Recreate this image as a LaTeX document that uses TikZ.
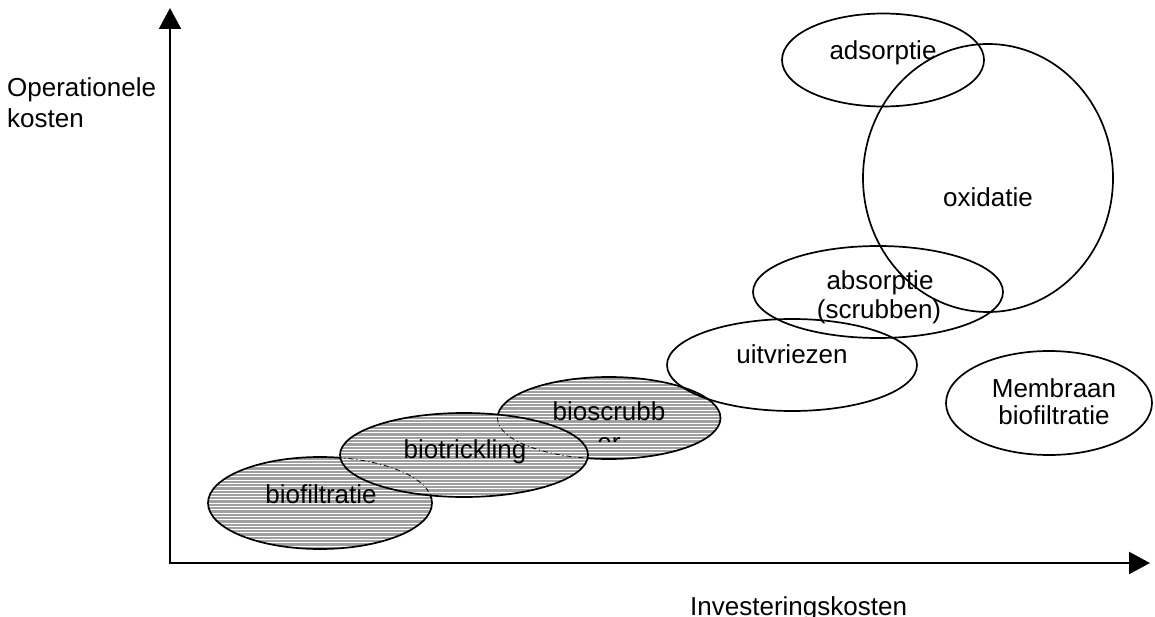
\documentclass[tikz,border=0pt]{standalone}
\usepackage{fontspec}
\setmainfont{Liberation Sans}
\usetikzlibrary{arrows.meta,shapes.geometric}

\definecolor{hatchgray}{RGB}{160,160,160}

\tikzset{
  axis/.style={line width=2.2pt, line join=miter,
    {Triangle[length=21pt,width=22pt]}-{Triangle[length=21pt,width=22pt]}},
  blob/.style={ellipse, draw, line width=1.7pt, inner sep=0pt},
  stripes/.code={\foreach \k in {0,...,40}
        \draw[white,line width=1pt]
          ([yshift=-\k*3.3pt]path picture bounding box.north west) --
          ([yshift=-\k*3.3pt]path picture bounding box.north east);},
  hatched/.style={fill=hatchgray, path picture={\tikzset{stripes}}},
  hidden/.style={line width=0.8pt, dash pattern=on 5pt off 3pt on 1pt off 3pt},
  lbl/.style={anchor=base, inner sep=0pt, font=\fontsize{26}{30}\selectfont},
  lblw/.style={anchor=base west, inner sep=0pt, font=\fontsize{26}{30}\selectfont}
}

\begin{document}
\begin{tikzpicture}[x=1pt,y=-1pt]
\useasboundingbox (0,0) rectangle (1155,617);

% axes
\coordinate (origin) at (170,563);
\coordinate (ytip) at (170,8);
\coordinate (xtip) at (1150,563);
\draw[axis] (ytip) -- (origin) -- (xtip);
\node[lblw] (ylab1) at (7,97) {Operationele};
\node[lblw] (ylab2) at (7,128) {kosten};
\node[lblw] (xlab) at (690,615) {Investeringskosten};

% biological techniques (hatched)
\node[blob, hatched, minimum width=223pt, minimum height=82pt] (bs) at (609,418) {};
\begin{scope}
  \clip (498,300) rectangle (722,441);
  \node[lbl] (bstxt2) at (609,451) {er};
\end{scope}
\node[lbl] (bstxt) at (609,420) {bioscrubb};

\node[blob, hatched, minimum width=224pt, minimum height=92pt] (bf) at (320,503) {};
\node[lbl] (bftxt) at (321,503) {biofiltratie};

% biotrickling lies in front; outlines behind it show as hidden lines
\node[blob, fill=hatchgray, minimum width=248pt, minimum height=84pt,
  path picture={
    \tikzset{stripes}
    \draw[hidden] (bs.center) ellipse [x radius=111.5pt, y radius=41pt];
    \draw[hidden] (bf.center) ellipse [x radius=112pt, y radius=46pt];
  }] (bt) at (464,455) {};
\node[lbl] (bttxt) at (465,458) {biotrickling};

% other techniques
\node[blob, minimum width=250pt, minimum height=92pt] (uv) at (792,365) {};
\node[lbl] (uvtxt) at (792,363) {uitvriezen};

\node[blob, minimum width=250pt, minimum height=92pt] (ab) at (878,292) {};
\node[lbl] (abtxt1) at (880,290) {absorptie};
\node[lbl] (abtxt2) at (879,318) {(scrubben)};

\node[blob, minimum width=202pt, minimum height=93pt] (ad) at (883,60) {};
\node[lbl] (adtxt) at (883,60) {adsorptie};

\node[blob, minimum width=250pt, minimum height=268pt] (ox) at (988,178) {};
\node[lbl] (oxtxt) at (988,207) {oxidatie};

\node[blob, minimum width=206pt, minimum height=104pt] (mb) at (1049,403) {};
\node[lbl] (mbtxt1) at (1054,397) {Membraan};
\node[lbl] (mbtxt2) at (1054,424) {biofiltratie};
\end{tikzpicture}
\end{document}
